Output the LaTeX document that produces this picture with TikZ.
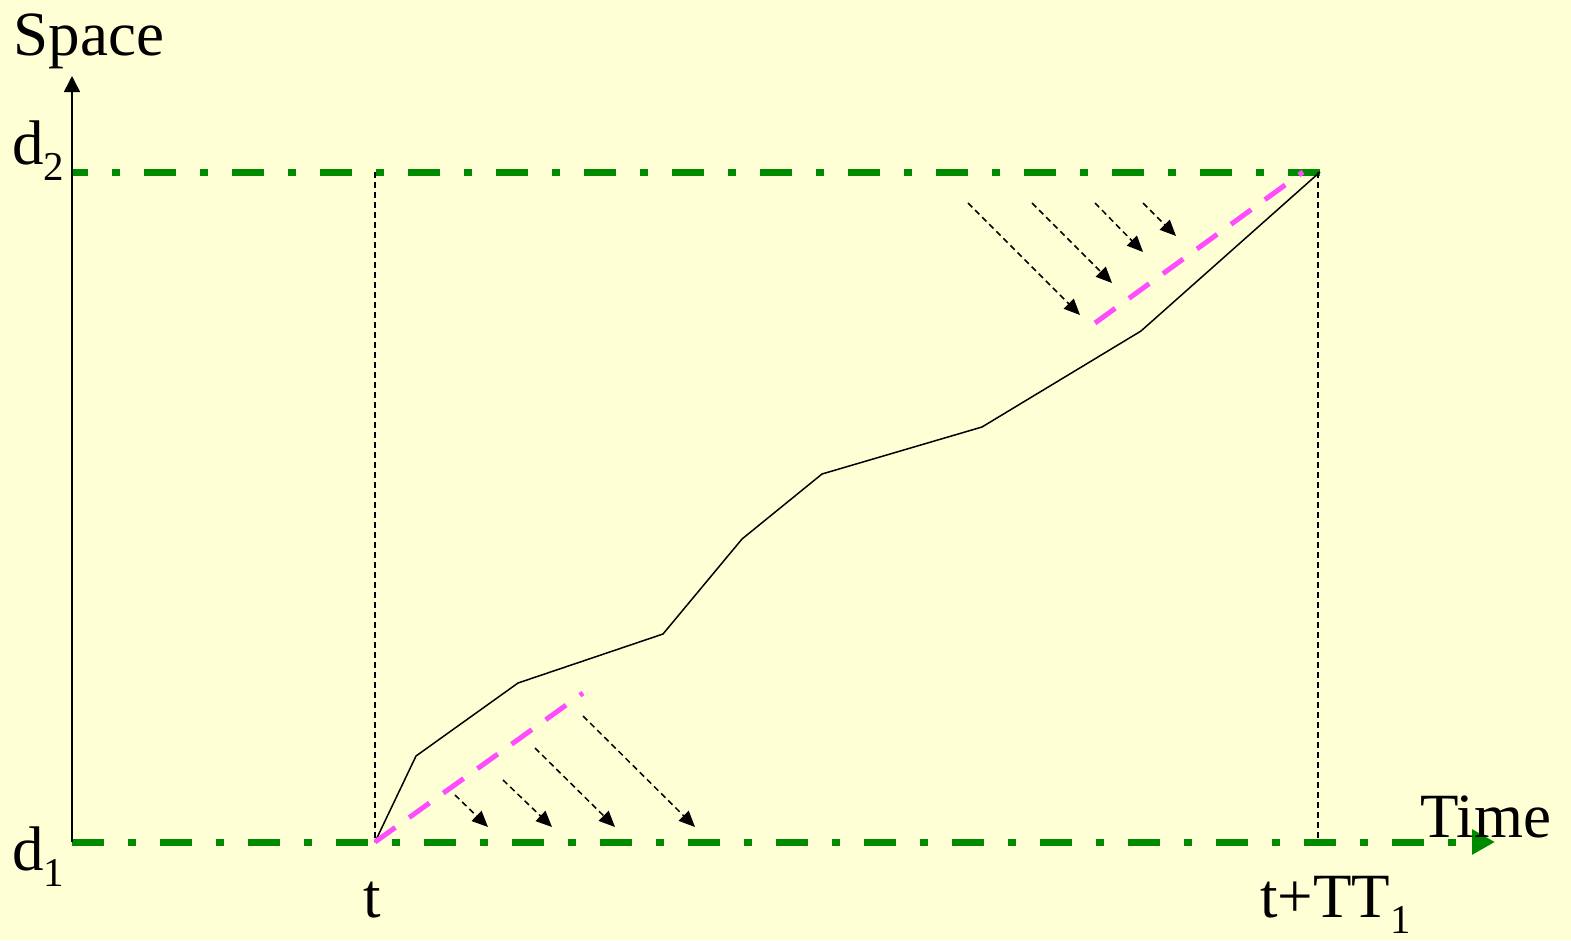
\documentclass[tikz,border=0pt]{standalone}
\usepackage{fontspec}
\setmainfont{Liberation Serif}
\usetikzlibrary{arrows.meta}
\definecolor{bg}{HTML}{FFFFD5}
\definecolor{grn}{HTML}{008A00}
\definecolor{mag}{HTML}{FF4CFF}
\newcommand{\mysub}[1]{\raisebox{-0.26em}{\fontsize{41}{41}\selectfont #1}}
\tikzset{
  lbl/.style={inner sep=0pt, font=\fontsize{63}{70}\selectfont},
  level/.style={grn, line width=7pt, dash pattern=on 32pt off 24pt on 8pt off 24pt},
  guide/.style={black, line width=1.4pt, dash pattern=on 6pt off 4pt},
  trace/.style={black, line width=1.5pt, line join=round},
  wave/.style={mag, line width=5pt, dash pattern=on 25pt off 17pt},
  darr/.style={black, line width=1.5pt, dash pattern=on 6pt off 4pt, -{Triangle[length=16pt,width=14pt]}}
}
\begin{document}
\begin{tikzpicture}[x=1pt,y=-1pt]
\fill[bg] (0,0) rectangle (1571,940);
\useasboundingbox (0,0) rectangle (1571,940);
% coordinates
\coordinate (O) at (72,842);
\coordinate (Ytop) at (72,76);
\coordinate (D2L) at (72,172);
\coordinate (D2R) at (1320,172);
\coordinate (Xend) at (1495,842);
\coordinate (T0) at (375,842);
\coordinate (T0top) at (375,172);
\coordinate (T1) at (1318,842);
\coordinate (T1top) at (1318,172);
% levels
\draw[level] (D2R) -- (D2L);
\draw[level, -{Triangle[length=23pt,width=24pt]}] (O) -- (Xend);
% axis
\draw[black, line width=1.5pt, -{Triangle[length=16pt,width=16pt]}] (O) -- (Ytop);
% guides
\draw[guide] (T0top) -- (T0);
\draw[guide] (T1top) -- (T1);
% trajectory
\draw[trace] (T0) -- (416,756) -- (518,683) -- (663,634) -- (742,539) -- (822,474) -- (982,427) -- (1141,331) -- (D2R);
% magenta waves
\coordinate (M1a) at (375,842); \coordinate (M1b) at (583,693);
\coordinate (M2a) at (1095,323); \coordinate (M2b) at (1303,172);
\draw[wave] (M1a) -- (M1b);
\draw[wave] (M2a) -- (M2b);
% lower arrows
\coordinate (a1s) at (455,795); \coordinate (a1e) at (488,827);
\coordinate (a2s) at (503,780); \coordinate (a2e) at (552,827);
\coordinate (a3s) at (535,748); \coordinate (a3e) at (615,827);
\coordinate (a4s) at (583,716); \coordinate (a4e) at (695,827);
\draw[darr] (a1s) -- (a1e);
\draw[darr] (a2s) -- (a2e);
\draw[darr] (a3s) -- (a3e);
\draw[darr] (a4s) -- (a4e);
% upper arrows
\coordinate (b1s) at (968,203); \coordinate (b1e) at (1080,315);
\coordinate (b2s) at (1032,203); \coordinate (b2e) at (1112,283);
\coordinate (b3s) at (1095,203); \coordinate (b3e) at (1143,252);
\coordinate (b4s) at (1143,203); \coordinate (b4e) at (1176,236);
\draw[darr] (b1s) -- (b1e);
\draw[darr] (b2s) -- (b2e);
\draw[darr] (b3s) -- (b3e);
\draw[darr] (b4s) -- (b4e);
% labels
\node[lbl, anchor=base] (space) at (89,55) {Space};
\node[lbl, anchor=base west] (d2) at (12,164) {d\mysub{2}};
\node[lbl, anchor=base west] (d1) at (12,870) {d\mysub{1}};
\node[lbl, anchor=base] (t) at (372,917) {t};
\node[lbl, anchor=base west] (ttt) at (1260,917) {t+TT\mysub{1}};
\node[lbl, anchor=base west] (time) at (1420,837) {Time};
\end{tikzpicture}
\end{document}
